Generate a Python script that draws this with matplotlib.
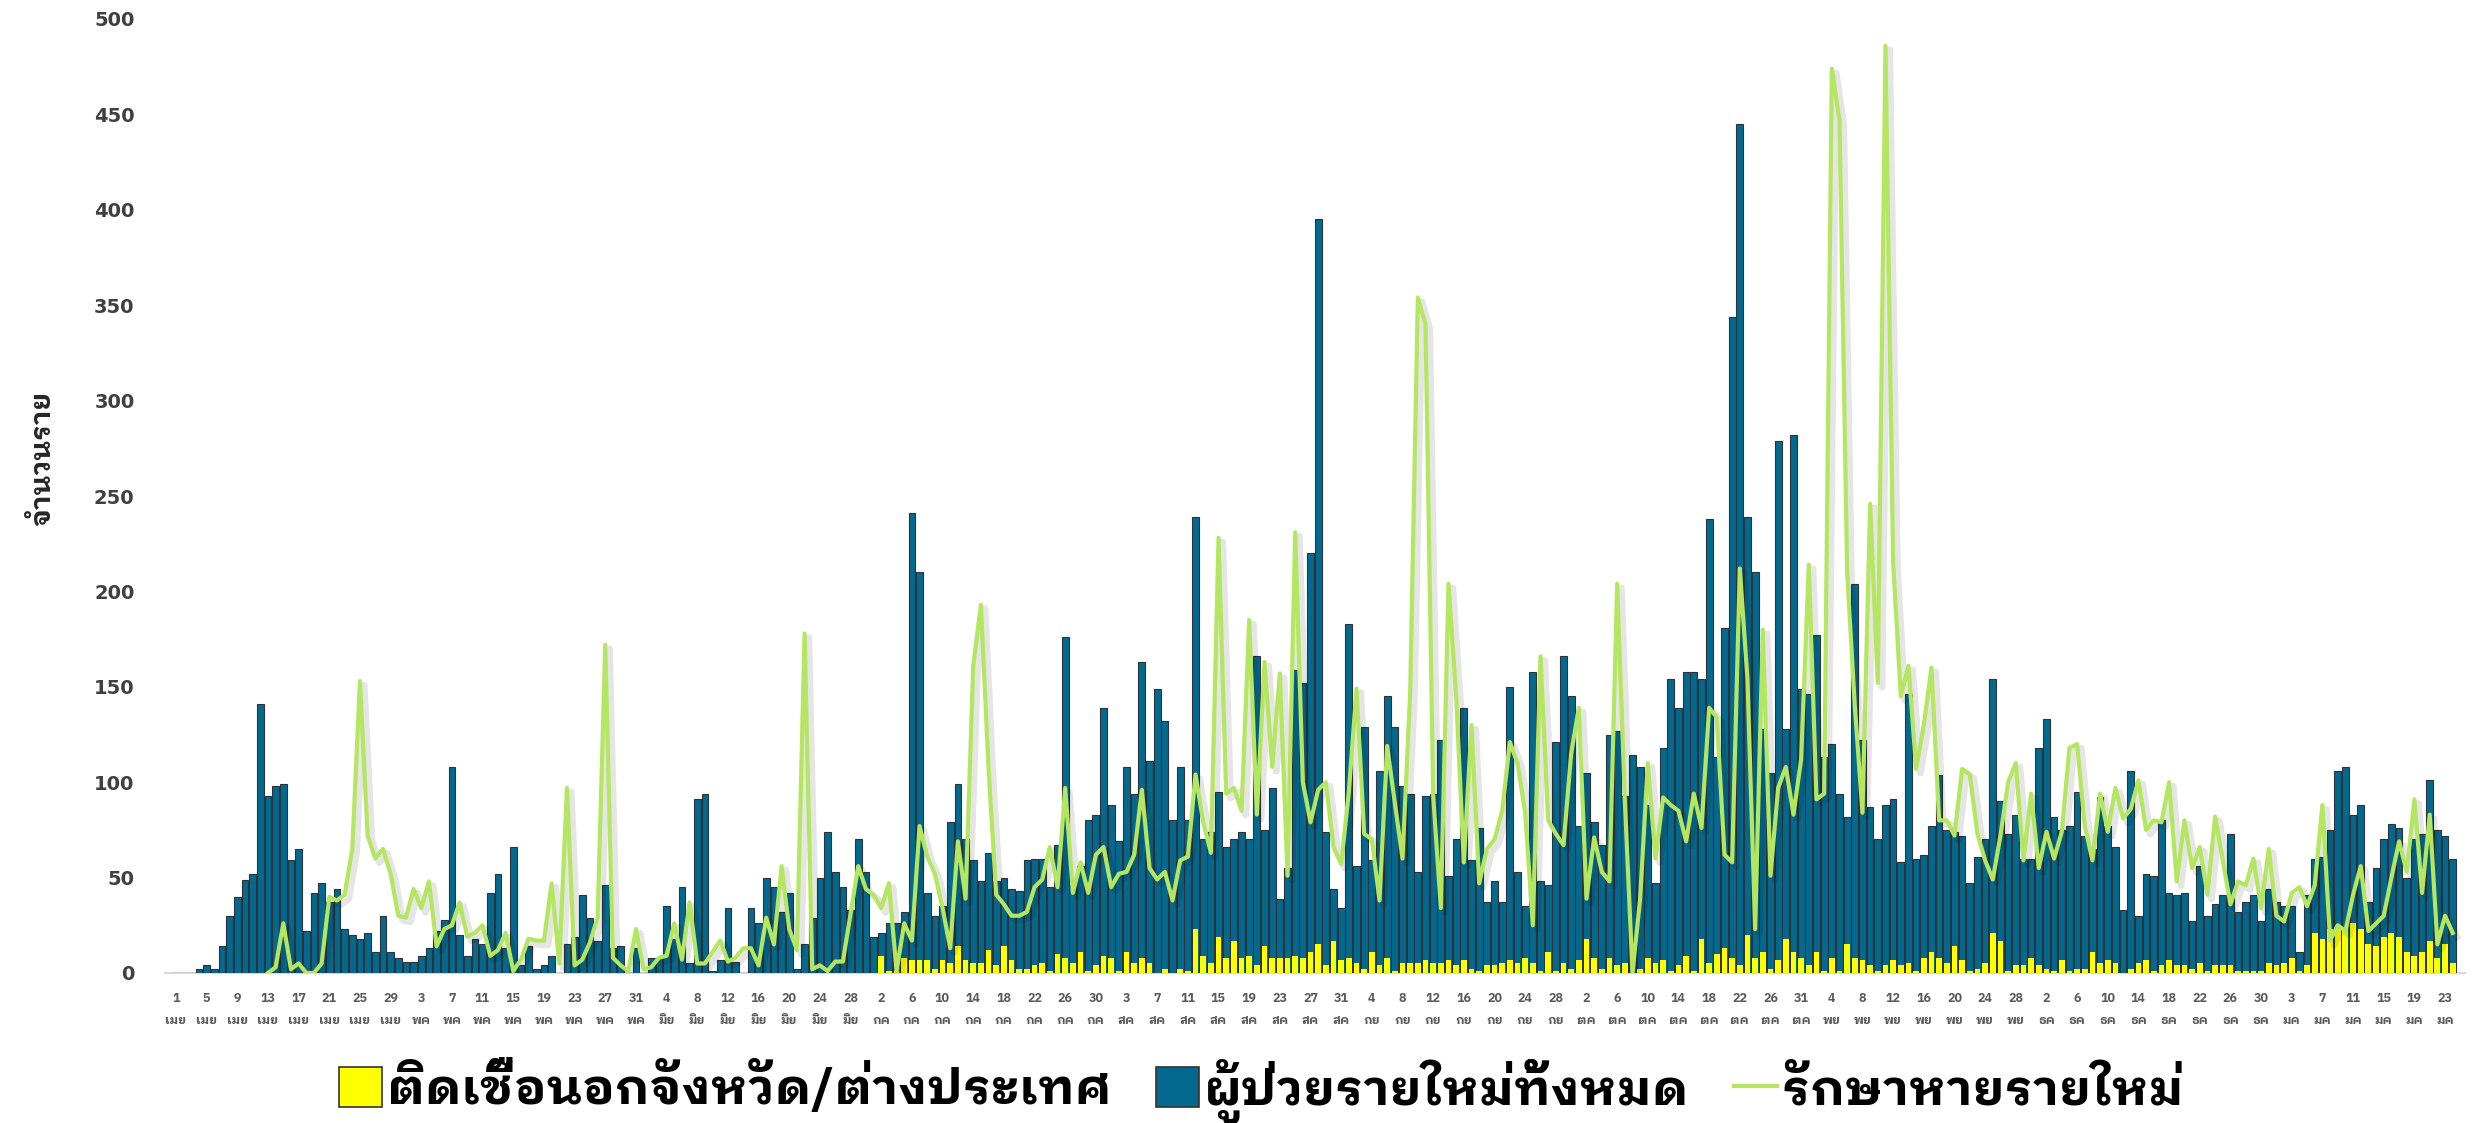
import numpy as np
import matplotlib
matplotlib.use("Agg")
import matplotlib.pyplot as plt
import matplotlib.patheffects as pe
from matplotlib import font_manager as fm
from matplotlib.ft2font import FT2Font
from matplotlib.patches import Patch
from matplotlib.lines import Line2D

# ---------------- data ----------------
tick_days = [1, 5, 9, 13, 17, 21, 25, 29, 3, 7, 11, 15, 19, 23, 27, 31, 4, 8, 12, 16, 20, 24, 28,
             2, 6, 10, 14, 18, 22, 26, 30, 3, 7, 11, 15, 19, 23, 27, 31, 4, 8, 12, 16, 20, 24, 28,
             2, 6, 10, 14, 18, 22, 26, 31, 4, 8, 12, 16, 20, 24, 28, 2, 6, 10, 14, 18, 22, 26, 30,
             3, 7, 11, 15, 19, 23]
tick_months = (["เมย"] * 8 + ["พค"] * 8 + ["มิย"] * 7 + ["กค"] * 8 + ["สค"] * 8 + ["กย"] * 7 +
               ["ตค"] * 8 + ["พย"] * 7 + ["ธค"] * 8 + ["มค"] * 6)

new_cases = [0, 0, 0,
             2, 4, 2, 14, 30, 40, 49, 52, 141, 93, 98, 99, 59, 65, 22, 42, 47, 37, 44, 23, 20, 18, 21, 11,
             30, 11, 8, 6, 6, 9, 13, 22, 28, 108, 20, 9, 18, 15, 42, 52, 13, 66, 4, 14, 2, 4, 9, 0, 15, 19, 41, 29,
             17, 46, 13, 14, 0, 13, 0, 8, 8, 35, 18, 45, 5, 91, 94, 1, 7, 34, 6, 0, 34, 26, 50, 45, 32, 42, 2,
             15, 29, 50, 74, 53, 45, 33, 70, 53, 19, 21, 26, 26, 32, 241, 210, 42, 30, 35, 79, 99, 70, 59, 48, 63, 48, 50, 44,
             43, 59, 60, 60, 45, 67, 176, 46, 56, 80, 83, 139, 88, 69, 108, 94, 163, 111, 149, 132, 80, 108, 80, 239, 70, 74, 95,
             66, 70, 74, 70, 166, 75, 97, 39, 55, 159, 152, 220, 395, 74, 44, 34, 183, 56, 129, 59, 106, 145, 129, 98, 94,
             53, 93, 94, 122, 51, 70, 139, 59, 76, 37, 48, 37, 150, 53, 35, 158, 48, 46, 121, 166, 145, 77, 105, 79, 67, 125, 127, 93, 114, 108,
             88, 47, 118, 154, 139, 158, 158, 154, 238, 113, 181, 344, 445, 239, 210, 128, 105, 279, 128, 282, 149, 146, 177, 113, 120, 94, 82,
             204, 122, 87, 70, 88, 91, 58, 146, 60, 62, 77, 104, 75, 74, 72, 47, 61, 70, 154, 90, 73, 83, 60, 60, 118, 133, 82, 75,
             77, 95, 72, 65, 92, 77, 66, 33, 106, 30, 52, 51, 80, 42, 41, 42, 27, 56, 30, 36, 41, 73, 32, 37, 41, 27, 44,
             37, 35, 35, 11, 41, 60, 61, 75, 106, 108, 83, 88, 37, 55, 70, 78, 76, 50, 70, 73, 101, 75, 72, 60]

imported = ([0] * 92 +
            [9, 1, 1, 8, 7, 7, 7, 2, 7, 5, 14, 7, 5, 5, 12, 4, 14, 7] +
            [2, 2, 4, 5, 1, 10, 8, 5, 11, 1, 4, 9, 8, 1, 11, 5, 8, 5, 0, 2, 0, 2, 1, 23, 9, 5, 19] +
            [8, 17, 8, 9, 4, 14, 8, 8, 8, 9, 8, 11, 15, 4, 17, 7, 8, 5, 2, 11, 4, 8, 1, 5, 5] +
            [5, 7, 5, 5, 7, 4, 7, 2, 1, 4, 4, 5, 7, 5, 8, 5, 1, 11, 1, 5, 2, 7, 18, 8, 2, 8, 4, 5, 0, 2] +
            [8, 5, 7, 1, 4, 9, 1, 18, 5, 10, 13, 8, 4, 20, 8, 11, 2, 7, 18, 11, 8, 4, 11, 1, 8, 1, 15] +
            [8, 7, 4, 1, 4, 7, 4, 5, 1, 8, 11, 8, 5, 14, 7, 1, 2, 5, 21, 17, 1, 4, 4, 8, 4, 2, 1, 7] +
            [1, 2, 2, 11, 5, 7, 5, 0, 2, 5, 7, 1, 4, 7, 4, 4, 2, 5, 1, 4, 4, 4, 1, 1, 1, 1, 5] +
            [4, 5, 8, 1, 4, 21, 18, 23, 23, 23, 26, 23, 15, 14, 19, 21, 19, 11, 9, 11, 17, 8, 15, 5])

recovered = ([np.nan] * 12 +
             [0, 3, 26, 2, 5, 0, 0, 5, 40, 38, 41, 65, 153, 72, 60] +
             [65, 52, 30, 29, 44, 34, 48, 14, 23, 25, 37, 19, 21, 25, 9, 12, 21, 1, 7, 18, 17, 17, 47, 5, 97, 4, 7, 16] +
             [29, 172, 8, 4, 1, 23, 2, 3, 8, 9, 26, 7, 37, 5, 5, 11, 17, 6, 8, 13, 13, 4, 29, 15, 56, 23, 12] +
             [178, 2, 4, 1, 6, 6, 31, 56, 44, 41, 34, 47, 1, 26, 17, 77, 61, 52, 34, 13, 69, 39, 161, 193, 107, 41, 36, 30] +
             [30, 32, 45, 49, 66, 45, 97, 42, 58, 42, 62, 66, 45, 52, 53, 62, 96, 55, 49, 53, 38, 59, 61, 104, 79, 63, 228] +
             [94, 97, 85, 185, 83, 163, 108, 157, 51, 231, 100, 79, 96, 100, 66, 57, 95, 149, 73, 70, 38, 119, 89, 60, 147, 354, 340] +
             [93, 34, 204, 145, 58, 130, 47, 65, 70, 85, 121, 110, 84, 25, 166, 80, 73, 67, 115, 139, 39, 71, 53, 48, 204, 91, 0, 39] +
             [110, 60, 92, 88, 85, 69, 94, 76, 139, 134, 62, 58, 212, 154, 23, 180, 51, 97, 108, 83, 112, 214, 91, 94] +
             [474, 447, 210, 140, 84, 246, 152, 486, 215, 145, 161, 107, 130, 160, 80, 80, 72, 107, 104, 73, 59, 49, 72, 100, 110, 59, 94, 55, 74, 60, 74] +
             [118, 120, 77, 59, 94, 74, 97, 81, 86, 101, 75, 80, 79, 100, 48, 80, 55, 66, 41, 82, 59, 36, 48, 46, 60, 34, 65] +
             [30, 27, 42, 45, 35, 46, 88, 17, 25, 22, 41, 56, 22, 26, 30, 50, 69, 53, 91, 42, 83, 15, 30, 21])

legend_labels = ["ติดเชื้อนอกจังหวัด/ต่างประเทศ", "ผู้ป่วยรายใหม่ทั้งหมด", "รักษาหายรายใหม่"]
y_label = "จำนวนราย"

# ---------------- fonts ----------------
thai_bold = []
for f in fm.fontManager.ttflist:
    try:
        cm = FT2Font(f.fname).get_charmap()
    except Exception:
        continue
    if 0x0E08 in cm and 0x0E33 in cm and 0x0E1B in cm:
        w = f.weight if isinstance(f.weight, int) else 400
        if (w >= 600 or str(f.weight) in ("bold", "heavy", "black")) and f.style == "normal":
            if f.name not in thai_bold:
                thai_bold.append(f.name)

pref = ["IBM Plex Sans Thai Looped", "Sarabun", "Loma", "Noto Sans Thai", "IBM Plex Sans Thai"]
thai = None
for p in pref:
    if p in thai_bold:
        thai = p
        break
if thai is None and thai_bold:
    thai = thai_bold[0]
families = ([thai] if thai else []) + ["DejaVu Sans"]
plt.rcParams["font.family"] = families

# ---------------- figure ----------------
W, H = 2478, 1123
fig = plt.figure(figsize=(W / 100, H / 100), dpi=100)
ax = fig.add_axes([165 / W, 150 / H, 2300 / W, 954 / H])

n = len(new_cases)
x = np.arange(n)
blue = "#03698f"
yellow = "#ffff00"
green = "#b5e661"

ax.bar(x, new_cases, width=0.88, color=blue, edgecolor="#2d3338", linewidth=0.8, zorder=2)
ax.bar(x, imported, width=0.76, color=yellow, edgecolor="none", linewidth=0, zorder=3)
ax.plot(x, recovered, color=green, linewidth=3.0, zorder=4, solid_joinstyle="round",
        path_effects=[pe.SimpleLineShadow(offset=(3, -3), shadow_color="#000000", alpha=0.10, linewidth=5),
                      pe.Normal()])

ax.set_xlim(-1.43, 298.6)
ax.set_ylim(0, 500)
for s in ["top", "right", "left"]:
    ax.spines[s].set_visible(False)
ax.spines["bottom"].set_color("#d9d9d9")
ax.spines["bottom"].set_linewidth(1.5)
ax.spines["bottom"].set_zorder(1)

ax.set_yticks(np.arange(0, 501, 50))
ax.tick_params(axis="y", length=0, pad=22, labelsize=14, labelcolor="#404040")
for t in ax.get_yticklabels():
    t.set_fontweight("bold")
    t.set_family("DejaVu Sans")

tick_pos = np.arange(0, 4 * len(tick_days), 4)
ax.set_xticks(tick_pos)
ax.set_xticklabels([f"{d}\n{m}" for d, m in zip(tick_days, tick_months)], linespacing=1.9,
                   fontsize=9, fontweight="bold", color="#595959")
ax.tick_params(axis="x", length=0, pad=14)

fig.text(43 / W, 1 - 458 / H, y_label, rotation=90, ha="center", va="center",
         fontsize=20, fontweight="bold", color="#262626")

handles = [Patch(facecolor=yellow, edgecolor="#333333", linewidth=1.2),
           Patch(facecolor=blue, edgecolor="#333333", linewidth=1.2),
           Line2D([0], [0], color=green, linewidth=3)]
fig.legend(handles, legend_labels, loc="center", bbox_to_anchor=(0.509, 1 - 1091 / H), ncol=3,
           frameon=False, handlelength=0.85, handleheight=0.85, handletextpad=0.1,
           columnspacing=0.9, prop={"weight": "bold", "size": 36})

fig.savefig("out.png", dpi=100)
